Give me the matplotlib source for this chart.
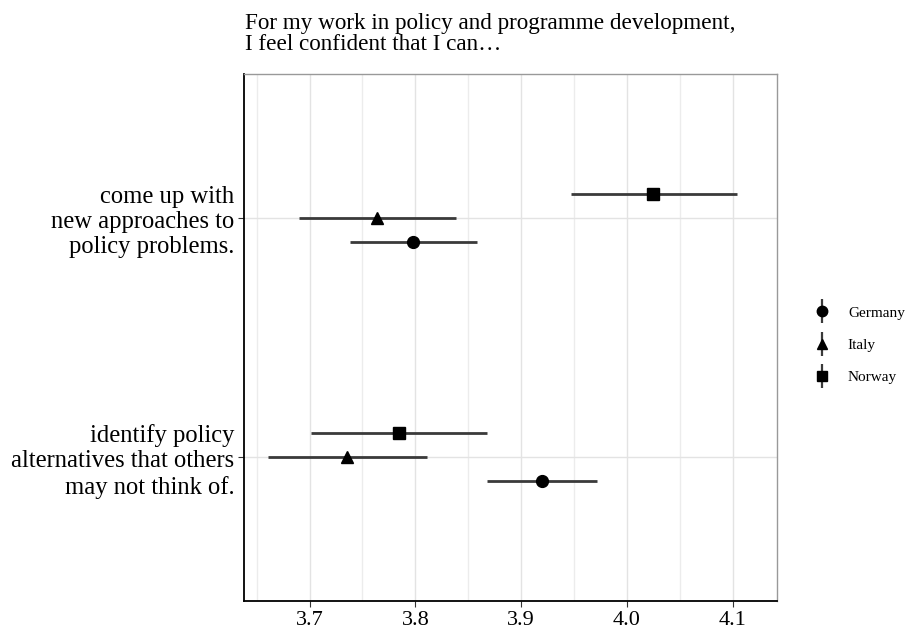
import matplotlib
matplotlib.use("Agg")
import matplotlib.pyplot as plt
import numpy as np
from matplotlib.lines import Line2D
from matplotlib.legend_handler import HandlerTuple

plt.rcParams['font.family'] = ['Liberation Serif', 'DejaVu Serif']

# data
items = ["identify policy\nalternatives that others\nmay not think of.",
         "come up with\nnew approaches to\npolicy problems."]
countries = ["Germany", "Italy", "Norway"]
markers = ["o", "^", "s"]
# estimates per country, same order as items
est = {"Germany": [3.920, 3.798],
       "Italy": [3.735, 3.764],
       "Norway": [3.785, 4.025]}
lower = {"Germany": [3.868, 3.738],
         "Italy": [3.661, 3.690],
         "Norway": [3.701, 3.947]}
upper = {"Germany": [3.972, 3.858],
         "Italy": [3.811, 3.838],
         "Norway": [3.868, 4.104]}
xticks = [3.7, 3.8, 3.9, 4.0, 4.1]

fig = plt.figure(figsize=(9.17, 6.29), dpi=100)
ax = fig.add_axes([244/917, 1-601/629, 533/917, 527/629])

ypos = np.arange(1, len(items)+1)
offsets = [-0.1, 0.0, 0.1]
handles = []
for c, m, off in zip(countries, markers, offsets):
    x = np.array(est[c])
    lo = x - np.array(lower[c])
    hi = np.array(upper[c]) - x
    ax.errorbar(x, ypos + off, xerr=[lo, hi], fmt="none",
                ecolor="#3a3a3a", elinewidth=2, capsize=0, zorder=2)
    ms = 8.5 if m != "s" else 8
    ax.plot(x, ypos + off, linestyle="none", marker=m, color="black",
            markersize=ms, zorder=3)
    h1 = Line2D([], [], linestyle="none", marker="|", color="#3a3a3a",
                markersize=17, markeredgewidth=1.6)
    h2 = Line2D([], [], linestyle="none", marker=m, color="black", markersize=7.5)
    handles.append((h1, h2))

ax.set_xticks(xticks)
ax.set_xticklabels(["%.1f" % v for v in xticks])
ax.set_xticks(np.arange(3.65, 4.16, 0.1), minor=True)
ax.set_yticks(ypos)
ax.set_yticklabels(items, linespacing=1.2, fontsize=17.7)
ax.set_xlim(3.638, 4.142)
ax.set_ylim(0.4, 2.6)
ax.tick_params(axis="x", which="major", labelsize=16)
ax.tick_params(axis="both", which="major", length=4,
               color="#333333", labelcolor="black", pad=3)
ax.tick_params(axis="x", which="minor", length=0)
ax.grid(which="major", color="#e3e3e3", linewidth=1)
ax.grid(which="minor", axis="x", color="#ececec", linewidth=1)
ax.set_axisbelow(True)
for s in ["top", "right"]:
    ax.spines[s].set_color("#999999")
    ax.spines[s].set_linewidth(1)
for s in ["left", "bottom"]:
    ax.spines[s].set_color("black")
    ax.spines[s].set_linewidth(1.3)

fig.text(245/917, 1-13/629, "For my work in policy and programme development,\nI feel confident that I can\u2026",
         ha="left", va="top", fontsize=16.7, linespacing=1.0)

fig.legend(handles, countries, handler_map={tuple: HandlerTuple(ndivide=1, pad=0)},
           loc="center left", bbox_to_anchor=(799/917, 1-345/629), frameon=False,
           fontsize=11, handlelength=1.2, handletextpad=1.1, labelspacing=1.2)

fig.savefig("out.png", dpi=100)
